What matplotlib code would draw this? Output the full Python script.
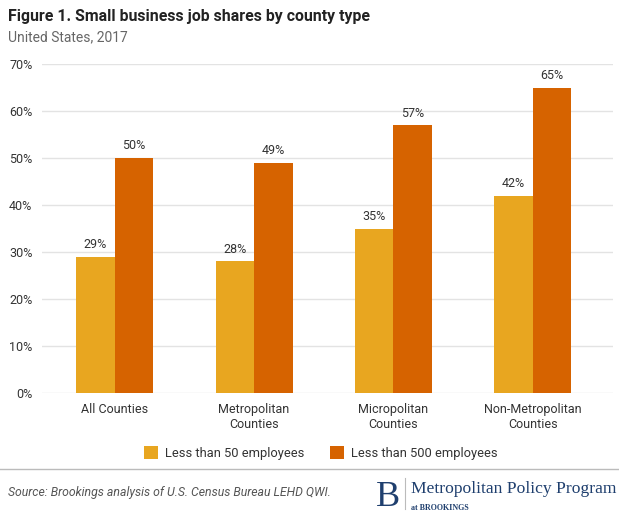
import matplotlib
matplotlib.use("Agg")
import matplotlib.pyplot as plt
import numpy as np

categories = ["All Counties", "Metropolitan\nCounties", "Micropolitan\nCounties", "Non-Metropolitan\nCounties"]
series_names = ["Less than 50 employees", "Less than 500 employees"]
small50 = [29, 28, 35, 42]
small500 = [50, 49, 57, 65]
yticks = [0, 10, 20, 30, 40, 50, 60, 70]

colors = ["#E8A620", "#D66300"]
plt.rcParams['font.family'] = ['Roboto', 'DejaVu Sans']

fig = plt.figure(figsize=(6.19, 5.13), dpi=100)
ax = fig.add_axes([0.068, 0.234, 0.922, 0.641])

x = np.arange(len(categories))
w = 0.276
b1 = ax.bar(x - w/2, small50, w, color=colors[0], label=series_names[0], zorder=3)
b2 = ax.bar(x + w/2, small500, w, color=colors[1], label=series_names[1], zorder=3)
for bars, vals in ((b1, small50), (b2, small500)):
    for r, v in zip(bars, vals):
        ax.text(r.get_x() + r.get_width()/2, v + 1.2, f"{v}%", ha="center", va="bottom",
                fontsize=9, color="#333333")

ax.set_xlim(-0.52, 3.573)
ax.set_ylim(0, 70)
ax.set_yticks(yticks)
ax.set_yticklabels([f"{t}%" for t in yticks], fontsize=9, color="#333333")
ax.set_xticks(x)
ax.set_xticklabels(categories, fontsize=9, color="#333333", linespacing=1.25)
ax.tick_params(length=0, pad=7)
ax.grid(axis="y", color="#E3E3E3", linewidth=1, zorder=0)
for s in ax.spines.values():
    s.set_visible(False)

leg = fig.legend(handles=[b1, b2], labels=series_names, loc="center", bbox_to_anchor=(0.518, 0.117),
                 ncol=2, frameon=False, fontsize=9.3, handlelength=1.1, handleheight=1.1,
                 columnspacing=2.0, handletextpad=0.5)
for t in leg.get_texts():
    t.set_color("#333333")

fig.text(0.013, 0.967, "Figure 1. Small business job shares by county type", fontsize=11.4,
         fontweight="bold", color="#222222", va="center")
fig.text(0.013, 0.928, "United States, 2017", fontsize=10, color="#666666", va="center")

fig.add_artist(plt.Line2D([0.0, 1.0], [0.085, 0.085], color="#BBBBBB", lw=1))
fig.text(0.013, 0.040, "Source: Brookings analysis of U.S. Census Bureau LEHD QWI.", fontsize=8.8,
         style="italic", color="#555555", va="center")
fig.text(0.608, 0.030, "B", fontsize=26, family="Liberation Serif", color="#1F3F6E", va="center")
fig.add_artist(plt.Line2D([0.655, 0.655], [0.008, 0.068], color="#BBBBBB", lw=0.8))
fig.text(0.664, 0.047, "Metropolitan Policy Program", fontsize=12.6, family="Liberation Serif",
         color="#1F3F6E", va="center")
fig.text(0.664, 0.010, "at BROOKINGS", fontsize=5.8, family="Liberation Serif",
         color="#1F3F6E", va="center", fontweight="bold")

fig.savefig("out.png", dpi=100)
